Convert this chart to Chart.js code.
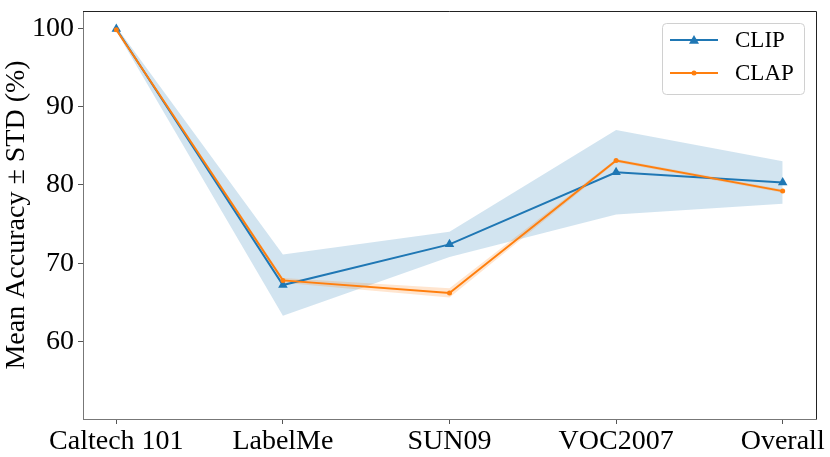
<!DOCTYPE html>
<html>
<head>
<meta charset="utf-8">
<script src="https://cdn.jsdelivr.net/npm/chart.js@4"></script>
<style>
html,body{margin:0;padding:0;background:#fff;}
#c{display:block;}
</style>
</head>
<body>
<canvas id="c" width="830" height="457"></canvas>
<script>
const categories = ["Caltech 101", "LabelMe", "SUN09", "VOC2007", "Overall"];
const clipMean = [99.9, 67.2, 72.4, 81.6, 80.3];
const clipStd  = [0.3, 3.9, 1.6, 5.4, 2.7];
const clapMean = [99.8, 67.8, 66.2, 83.1, 79.2];
const clapStd  = [0.2, 0.3, 0.6, 0.2, 0.2];
const yTicks = [60, 70, 80, 90, 100];
const seriesNames = ["CLIP", "CLAP"];

const BLUE = "#1f77b4", ORANGE = "#ff7f0e";
const pts = arr => arr.map((v, i) => ({x: i, y: v}));
const upper = (m, s) => m.map((v, i) => ({x: i, y: v + s[i]}));
const lower = (m, s) => m.map((v, i) => ({x: i, y: v - s[i]}));

const FAMILY = "'Liberation Serif', 'Times New Roman', serif";
Chart.defaults.font.family = FAMILY;
Chart.defaults.font.size = 28;
Chart.defaults.color = "#000";

const framePlugin = {
  id: "frameLegend",
  afterDraw(chart) {
    const ctx = chart.ctx;
    const a = chart.chartArea;
    ctx.save();
    ctx.strokeStyle = "#222";
    ctx.lineWidth = 1;
    ctx.beginPath();
    ctx.moveTo(a.left, a.top + 0.5);
    ctx.lineTo(a.right + 0.5, a.top + 0.5);
    ctx.lineTo(a.right + 0.5, a.bottom);
    ctx.stroke();
    // legend
    const bw = 142, bh = 71;
    const bx = a.right - 12 - bw, by = a.top + 12;
    ctx.beginPath();
    ctx.roundRect(bx + 0.5, by + 0.5, bw, bh, 4);
    ctx.fillStyle = "rgba(255,255,255,0.8)";
    ctx.fill();
    ctx.strokeStyle = "#d0d0d0";
    ctx.stroke();
    const items = chart.data.datasets.filter(d => d.isMain);
    items.forEach((d, k) => {
      const y = by + 17 + k * 33;
      ctx.strokeStyle = d.borderColor;
      ctx.lineWidth = 2;
      ctx.beginPath();
      ctx.moveTo(bx + 8, y);
      ctx.lineTo(bx + 56, y);
      ctx.stroke();
      ctx.fillStyle = d.borderColor;
      const cx = bx + 32;
      if (d.pointStyle === "triangle") {
        const r = 5;
        ctx.beginPath();
        ctx.moveTo(cx, y - r);
        ctx.lineTo(cx + r, y + r * 0.75);
        ctx.lineTo(cx - r, y + r * 0.75);
        ctx.closePath();
        ctx.fill();
      } else {
        ctx.beginPath();
        ctx.arc(cx, y, 2.5, 0, Math.PI * 2);
        ctx.fill();
      }
      ctx.fillStyle = "#000";
      ctx.font = "23px " + FAMILY;
      ctx.textBaseline = "middle";
      ctx.textAlign = "left";
      ctx.fillText(d.label, bx + 73, y + 1);
    });
    ctx.restore();
  }
};

new Chart(document.getElementById("c"), {
  type: "line",
  data: {
    datasets: [
      {label: "clipUpper", data: upper(clipMean, clipStd), borderWidth: 0, pointRadius: 0,
       backgroundColor: "rgba(31,119,180,0.2)", fill: "+1", order: 5, tension: 0},
      {label: "clipLower", data: lower(clipMean, clipStd), borderWidth: 0, pointRadius: 0,
       backgroundColor: "rgba(31,119,180,0.2)", fill: false, order: 5, tension: 0},
      {label: "clapUpper", data: upper(clapMean, clapStd), borderWidth: 0, pointRadius: 0,
       backgroundColor: "rgba(255,127,14,0.2)", fill: "+1", order: 4, tension: 0},
      {label: "clapLower", data: lower(clapMean, clapStd), borderWidth: 0, pointRadius: 0,
       backgroundColor: "rgba(255,127,14,0.2)", fill: false, order: 4, tension: 0},
      {label: seriesNames[0], isMain: true, data: pts(clipMean), borderColor: BLUE, backgroundColor: BLUE,
       borderWidth: 2, pointStyle: "triangle", pointRadius: 5.5, pointBorderWidth: 0, fill: false, order: 2, tension: 0},
      {label: seriesNames[1], isMain: true, data: pts(clapMean), borderColor: ORANGE, backgroundColor: ORANGE,
       borderWidth: 2, pointStyle: "circle", pointRadius: 2.5, pointBorderWidth: 0, fill: false, order: 1, tension: 0}
    ]
  },
  options: {
    responsive: false,
    animation: false,
    devicePixelRatio: 1,
    layout: {padding: {top: 9, right: 14, left: 0, bottom: 0}},
    plugins: {legend: {display: false}, tooltip: {enabled: false}},
    scales: {
      x: {
        type: "linear", min: -0.2, max: 4.2,
        afterBuildTicks: ax => { ax.ticks = categories.map((c, i) => ({value: i})); },
        afterFit: ax => { ax.height = 38; },
        ticks: {callback: v => categories[v] ?? "", maxRotation: 0, autoSkip: false, padding: 1, font: {size: 28}},
        grid: {display: true, drawOnChartArea: false, drawTicks: true, tickLength: 5, color: "#555"},
        border: {display: true, color: "#777", width: 1}
      },
      y: {
        type: "linear", min: 50.1, max: 102.2,
        afterBuildTicks: ax => { ax.ticks = yTicks.map(v => ({value: v})); },
        afterFit: ax => { ax.width = 83; },
        ticks: {padding: 4, font: {size: 28, lineHeight: 0.5}},
        grid: {display: true, drawOnChartArea: false, drawTicks: true, tickLength: 5, color: "#555"},
        border: {display: true, color: "#777", width: 1},
        title: {display: true, text: "Mean Accuracy ± STD (%)", font: {size: 28}, padding: 0}
      }
    }
  },
  plugins: [framePlugin]
});
</script>
</body>
</html>
